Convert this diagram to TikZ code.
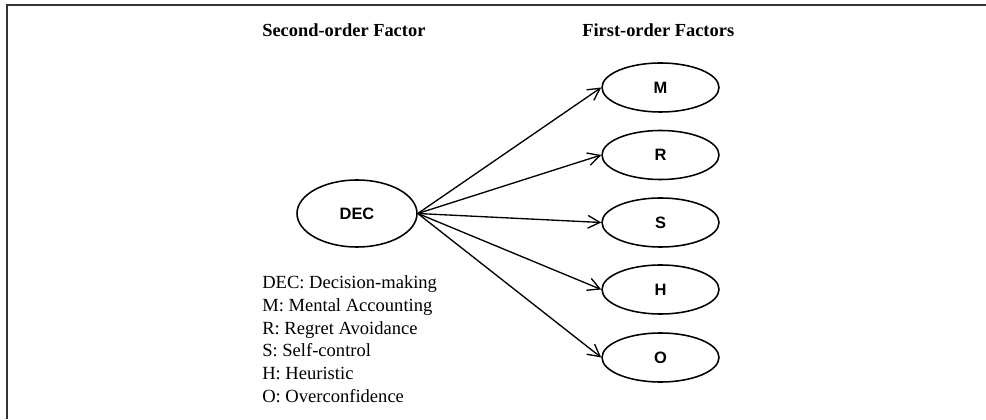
\documentclass[tikz,border=0pt]{standalone}
\usepackage{fontspec}
\setmainfont{Liberation Serif}
\newfontfamily\arialfont{Liberation Sans}
\usetikzlibrary{shapes.geometric,arrows.meta}

\begin{document}
\begin{tikzpicture}[
    factor/.style={draw, ellipse, line width=1.1pt, inner sep=0pt,
      minimum width=2.925cm, minimum height=1.225cm,
      font=\arialfont\bfseries\fontsize{11.7}{14}\selectfont},
    heading/.style={anchor=base west, inner sep=0pt,
      font=\bfseries\fontsize{13.1}{15}\selectfont},
    legend/.style={anchor=base west, inner sep=0pt,
      font=\fontsize{13.2}{16}\selectfont},
    link/.style={-{Straight Barb[length=3mm,width=3.2mm]}, line width=0.95pt}
  ]
    \useasboundingbox (0,0) rectangle (24.65,10.475);
    % frame
    \draw [line width=1.3pt, black!80] (24.65,10.35)--(0.175,10.35)--(0.175,0);
    % headings
    \node [heading] (hsec) at (6.55,9.55) {Second-order Factor};
    \node [heading] (hfir) at (14.55,9.55) {First-order Factors};
    % factors
    \node [factor, minimum width=3cm, minimum height=1.675cm] (DEC) at (8.925,5.1375) {DEC};
    \node [factor] (M) at (16.5125,8.2875) {M};
    \node [factor] (R) at (16.5125,6.6) {R};
    \node [factor] (S) at (16.5125,4.9125) {S};
    \node [factor] (H) at (16.5125,3.2375) {H};
    \node [factor] (O) at (16.5125,1.5375) {O};
    \draw [link] (DEC.east)--(M.west);
    \draw [link] (DEC.east)--(R.west);
    \draw [link] (DEC.east)--(S.west);
    \draw [link] (DEC.east)--(H.west);
    \draw [link] (DEC.east)--(O.west);
    % legend
    \node [legend] (lDEC) at (6.55,3.25) {DEC: Decision-making};
    \node [legend] (lM) at (6.55,2.685) {M: Mental Accounting};
    \node [legend] (lR) at (6.55,2.12) {R: Regret Avoidance};
    \node [legend] (lS) at (6.55,1.555) {S: Self-control};
    \node [legend] (lH) at (6.55,0.99) {H: Heuristic};
    \node [legend] (lO) at (6.55,0.425) {O: Overconfidence};
  \end{tikzpicture}
\end{document}
